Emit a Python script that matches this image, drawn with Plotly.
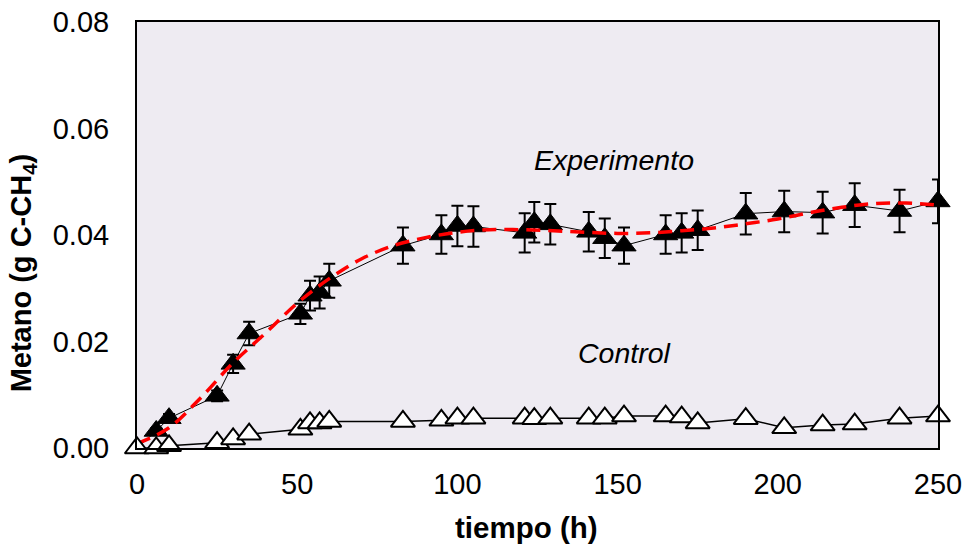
import plotly.graph_objects as go

# Sampling times (h)
tiempo = [0, 6, 10, 25, 30, 35, 51, 54, 57, 60, 83, 95, 100, 105, 121, 124, 129,
          141, 146, 152, 165, 170, 175, 190, 202, 214, 224, 238, 250]

# Methane, experiment (g C-CH4) and its standard deviation
exp_metano = [0.0000, 0.0032, 0.0056, 0.0098, 0.0158, 0.0215, 0.0252, 0.0286, 0.0292,
              0.0314, 0.0380, 0.0401, 0.0417, 0.0416, 0.0404, 0.0424, 0.0420, 0.0406,
              0.0394, 0.0380, 0.0401, 0.0404, 0.0409, 0.0440, 0.0444, 0.0442, 0.0456,
              0.0445, 0.0463]
exp_sd = [0.0000, 0.0005, 0.0008, 0.0010, 0.0017, 0.0022, 0.0019, 0.0028, 0.0030,
          0.0032, 0.0034, 0.0036, 0.0038, 0.0038, 0.0037, 0.0038, 0.0038, 0.0037,
          0.0037, 0.0034, 0.0036, 0.0037, 0.0037, 0.0039, 0.0039, 0.0039, 0.0041,
          0.0040, 0.0041]

# Methane, control (g C-CH4)
ctl_metano = [0.0000, 0.0000, 0.0004, 0.0010, 0.0017, 0.0026, 0.0035, 0.0047, 0.0047,
              0.0050, 0.0050, 0.0052, 0.0056, 0.0056, 0.0056, 0.0055, 0.0056, 0.0056,
              0.0056, 0.0060, 0.0060, 0.0058, 0.0047, 0.0055, 0.0038, 0.0043, 0.0045,
              0.0056, 0.0060]

# Fitted model curve
ajuste_t = [0, 10, 20, 30, 40, 50, 60, 70, 80, 90, 100, 110, 120, 130, 140, 150,
            160, 170, 180, 190, 200, 210, 220, 230, 240, 250]
ajuste_y = [0.0008, 0.0038, 0.0095, 0.0160, 0.0215, 0.0272, 0.0318, 0.0355, 0.0380,
            0.0395, 0.0405, 0.0410, 0.0410, 0.0408, 0.0405, 0.0403, 0.0404, 0.0408,
            0.0413, 0.0421, 0.0430, 0.0442, 0.0452, 0.0459, 0.0460, 0.0456]

FONT = "Liberation Sans, Arial, sans-serif"

fig = go.Figure()

fig.add_trace(go.Scatter(
    x=tiempo, y=exp_metano, mode="lines+markers",
    line=dict(color="black", width=1),
    marker=dict(symbol="triangle-up", size=21, color="black",
                line=dict(color="black", width=1)),
    error_y=dict(type="data", array=exp_sd, visible=True, color="black",
                 thickness=2, width=6),
    cliponaxis=False, showlegend=False,
))

fig.add_trace(go.Scatter(
    x=ajuste_t, y=ajuste_y, mode="lines",
    line=dict(color="#FF0000", width=3.5, dash="14px,8px", shape="spline"),
    cliponaxis=False, showlegend=False,
))

fig.add_trace(go.Scatter(
    x=tiempo, y=ctl_metano, mode="lines+markers",
    line=dict(color="black", width=1.5),
    marker=dict(symbol="triangle-up", size=21, color="white",
                line=dict(color="black", width=2)),
    cliponaxis=False, showlegend=False,
))

fig.add_annotation(x=149, y=0.0540, xref="x", yref="y", text="<i>Experimento</i>",
                   showarrow=False, font=dict(family=FONT, size=28.5, color="black"))
fig.add_annotation(x=152, y=0.0178, xref="x", yref="y", text="<i>Control</i>",
                   showarrow=False, font=dict(family=FONT, size=28.5, color="black"))

# Axis titles
fig.add_annotation(x=0.486, y=0, xref="paper", yref="paper", yshift=-79,
                   text="<b>tiempo (h)</b>", showarrow=False,
                   xanchor="center", yanchor="middle",
                   font=dict(family=FONT, size=29.5, color="black"))
fig.add_annotation(x=0, y=0.41, xref="paper", yref="paper", xshift=-114,
                   text="<b>Metano (g C-CH<sub>4</sub>)</b>", textangle=-90,
                   showarrow=False, xanchor="center", yanchor="middle",
                   font=dict(family=FONT, size=29, color="black"))

axis_common = dict(showline=True, linecolor="black", linewidth=2, mirror=True,
                   showgrid=False, zeroline=False, ticks="", automargin=False,
                   tickfont=dict(family=FONT, size=29, color="black"))

fig.update_layout(
    width=966, height=546,
    margin=dict(l=137, r=28, t=22, b=98),
    paper_bgcolor="white",
    plot_bgcolor="#EEEBF2",
    xaxis=dict(range=[0, 250], tickvals=[0, 50, 100, 150, 200, 250],
               ticklabelstandoff=9, **axis_common),
    yaxis=dict(range=[0, 0.08], tickvals=[0, 0.02, 0.04, 0.06, 0.08],
               tickformat=".2f", ticklabelstandoff=20, **axis_common),
)

fig.write_html("out.html")
